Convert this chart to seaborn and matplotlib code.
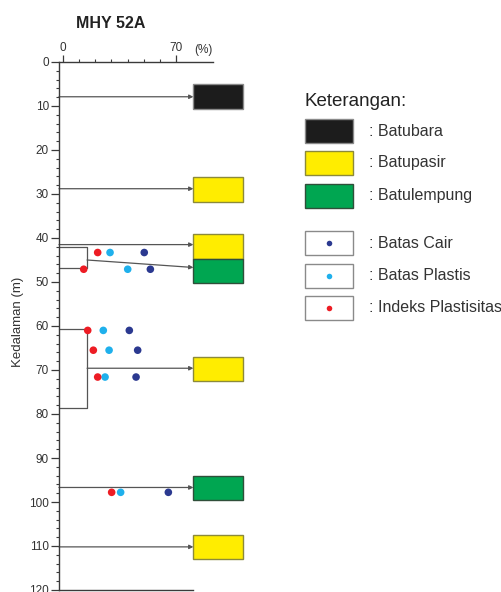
"""
Borehole log MHY 52A: lithology boxes plus Atterberg limits with depth.
"""
import numpy as np
import pandas as pd
import matplotlib
matplotlib.use("Agg")
import matplotlib.pyplot as plt
import seaborn as sns
from matplotlib.patches import Rectangle

# ================= DATA =================
# lithology boxes (depth top, depth bottom, type)
BOX_TOP = [5.0, 26.2, 39.1, 44.8, 67.0, 94.1, 107.5]
BOX_BOTTOM = [10.7, 31.8, 44.8, 50.3, 72.5, 99.5, 113.0]
BOX_TYPE = ["Batubara", "Batupasir", "Batupasir", "Batulempung",
            "Batupasir", "Batulempung", "Batupasir"]
BOX_X = (81.0, 112.0)   # % range of the boxes

# arrows: start depth -> end depth (start x, %)
ARROW_X0 = [-2.7, -2.7, -2.7, 14.8, 14.8, -2.7, -2.7]
ARROW_Y0 = [7.9, 28.8, 41.5, 45.0, 69.6, 96.7, 110.2]
ARROW_Y1 = [7.9, 28.8, 41.5, 46.7, 69.6, 96.7, 110.2]

# sample brackets (top depth, bottom depth)
BRACKET_TOP = [42.0, 60.7]
BRACKET_BOTTOM = [46.8, 78.7]
BRACKET_X = 14.8

# Atterberg limits (%)
DEPTH = [43.3, 47.1, 61.0, 65.5, 71.6, 97.8]
BATAS_CAIR = [50.4, 54.2, 41.1, 46.3, 45.3, 65.4]
BATAS_PLASTIS = [29.1, 40.1, 24.9, 28.5, 26.0, 35.7]
INDEKS_PLASTISITAS = [21.4, 12.7, 15.2, 18.7, 21.4, 30.1]

LITHO_COLORS = {
    "Batubara": ("#1c1c1c", "#8a8a8a"),
    "Batupasir": ("#ffed00", "#8c8a3a"),
    "Batulempung": ("#00a651", "#2f4f3a"),
}
POINT_COLORS = {
    "Batas Cair": "#2b3990",
    "Batas Plastis": "#1fb0ec",
    "Indeks Plastisitas": "#ed1c24",
}
LINE_COLOR = "#555555"
AXIS_COLOR = "#3a3a3a"
# ========================================

sns.set_style("ticks")
plt.rcParams["font.family"] = ["Liberation Sans", "DejaVu Sans"]

fig = plt.figure(figsize=(5.02, 5.92), dpi=100)
fig.patch.set_facecolor("white")

# overlay in pixel coordinates for free text and the legend
lax = fig.add_axes([0, 0, 1, 1], zorder=3)
lax.set_xlim(0, 502)
lax.set_ylim(592, 0)
lax.axis("off")
lax.patch.set_alpha(0)

ax = fig.add_axes([59 / 502, 2 / 592, 185 / 502, 528 / 592])
ax.set_xlim(-2.68, 112.5)
ax.set_ylim(120, 0)
ax.patch.set_alpha(0)

# spines
ax.spines["right"].set_visible(False)
for side in ["top", "bottom", "left"]:
    ax.spines[side].set_color(AXIS_COLOR)
    ax.spines[side].set_linewidth(1.0)
ax.spines["top"].set_bounds(-2.68, 93)
ax.spines["bottom"].set_bounds(-2.68, 81)
ax.spines["left"].set_bounds(0, 120)

# y ticks
ax.set_yticks(np.arange(0, 121, 10))
ax.set_yticks(np.arange(0, 121, 2), minor=True)
ax.tick_params(axis="y", which="major", length=6, width=0.9, color=AXIS_COLOR,
               labelsize=8.5, pad=1.2, labelcolor="#333333")
ax.tick_params(axis="y", which="minor", length=2.5, width=0.8, color=AXIS_COLOR)

# x ticks on top
ax.xaxis.set_ticks_position("top")
ax.set_xticks([0, 70])
ax.set_xticks(np.arange(10, 70, 10), minor=True)
ax.tick_params(axis="x", which="major", length=5, width=0.9, color=AXIS_COLOR,
               labelsize=8.5, pad=0.5, labelcolor="#333333")
ax.tick_params(axis="x", which="minor", length=2, width=0.8, color=AXIS_COLOR)
ax.set_xlabel("")
ax.set_ylabel("")

# lithology boxes
for top, bot, kind in zip(BOX_TOP, BOX_BOTTOM, BOX_TYPE):
    face, edge = LITHO_COLORS[kind]
    ax.add_patch(Rectangle((BOX_X[0], top), BOX_X[1] - BOX_X[0], bot - top,
                           facecolor=face, edgecolor=edge, lw=1.0,
                           clip_on=False, zorder=2))

# brackets
for top, bot in zip(BRACKET_TOP, BRACKET_BOTTOM):
    ax.plot([-2.68, BRACKET_X, BRACKET_X, -2.68], [top, top, bot, bot],
            color=LINE_COLOR, lw=0.9, clip_on=False, zorder=1)

# arrows
for x0, y0, y1 in zip(ARROW_X0, ARROW_Y0, ARROW_Y1):
    ax.annotate("", xy=(BOX_X[0], y1), xytext=(x0, y0),
                arrowprops=dict(arrowstyle="-|>", color=LINE_COLOR, lw=0.9,
                                mutation_scale=6, shrinkA=0, shrinkB=0),
                zorder=1, annotation_clip=False)

# Atterberg limits
points = pd.DataFrame({
    "depth": DEPTH * 3,
    "value": BATAS_CAIR + BATAS_PLASTIS + INDEKS_PLASTISITAS,
    "param": (["Batas Cair"] * len(DEPTH) + ["Batas Plastis"] * len(DEPTH)
              + ["Indeks Plastisitas"] * len(DEPTH)),
})
sns.scatterplot(data=points, x="value", y="depth", hue="param",
                palette=POINT_COLORS, s=30, linewidth=0, legend=False,
                ax=ax, zorder=4)
ax.set_xlabel("")
ax.set_ylabel("")

# free text
lax.text(111, 24, "MHY 52A", fontsize=11.5, fontweight="bold",
         ha="center", va="center", color="#222222")
lax.text(203, 50, "(%)", fontsize=8.5, ha="center", va="center", color="#333333")
lax.text(18, 322, "Kedalaman (m)", fontsize=9.5, rotation=90,
         ha="center", va="center", color="#333333")

# legend
lax.text(305, 102, "Keterangan:", fontsize=13.5, ha="left", va="center",
         color="#222222")
swatch_y = [119, 151, 183.5]
for y, kind in zip(swatch_y, ["Batubara", "Batupasir", "Batulempung"]):
    face, edge = LITHO_COLORS[kind]
    lax.add_patch(Rectangle((305, y), 48, 24, facecolor=face,
                            edgecolor=edge, lw=1.0))
    lax.text(369, y + 12, ": " + kind, fontsize=11.5, ha="left",
             va="center", color="#333333")

dot_y = [231, 263.5, 296]
for y, name in zip(dot_y, POINT_COLORS):
    lax.add_patch(Rectangle((305, y), 48, 24, facecolor="white",
                            edgecolor="#8a8a8a", lw=1.0))
    lax.plot(329.5, y + 12, "o", ms=4, color=POINT_COLORS[name], mec="none")
    lax.text(369, y + 12, ": " + name, fontsize=11.5, ha="left",
             va="center", color="#333333")

fig.savefig("out.png", dpi=100, facecolor="white")
